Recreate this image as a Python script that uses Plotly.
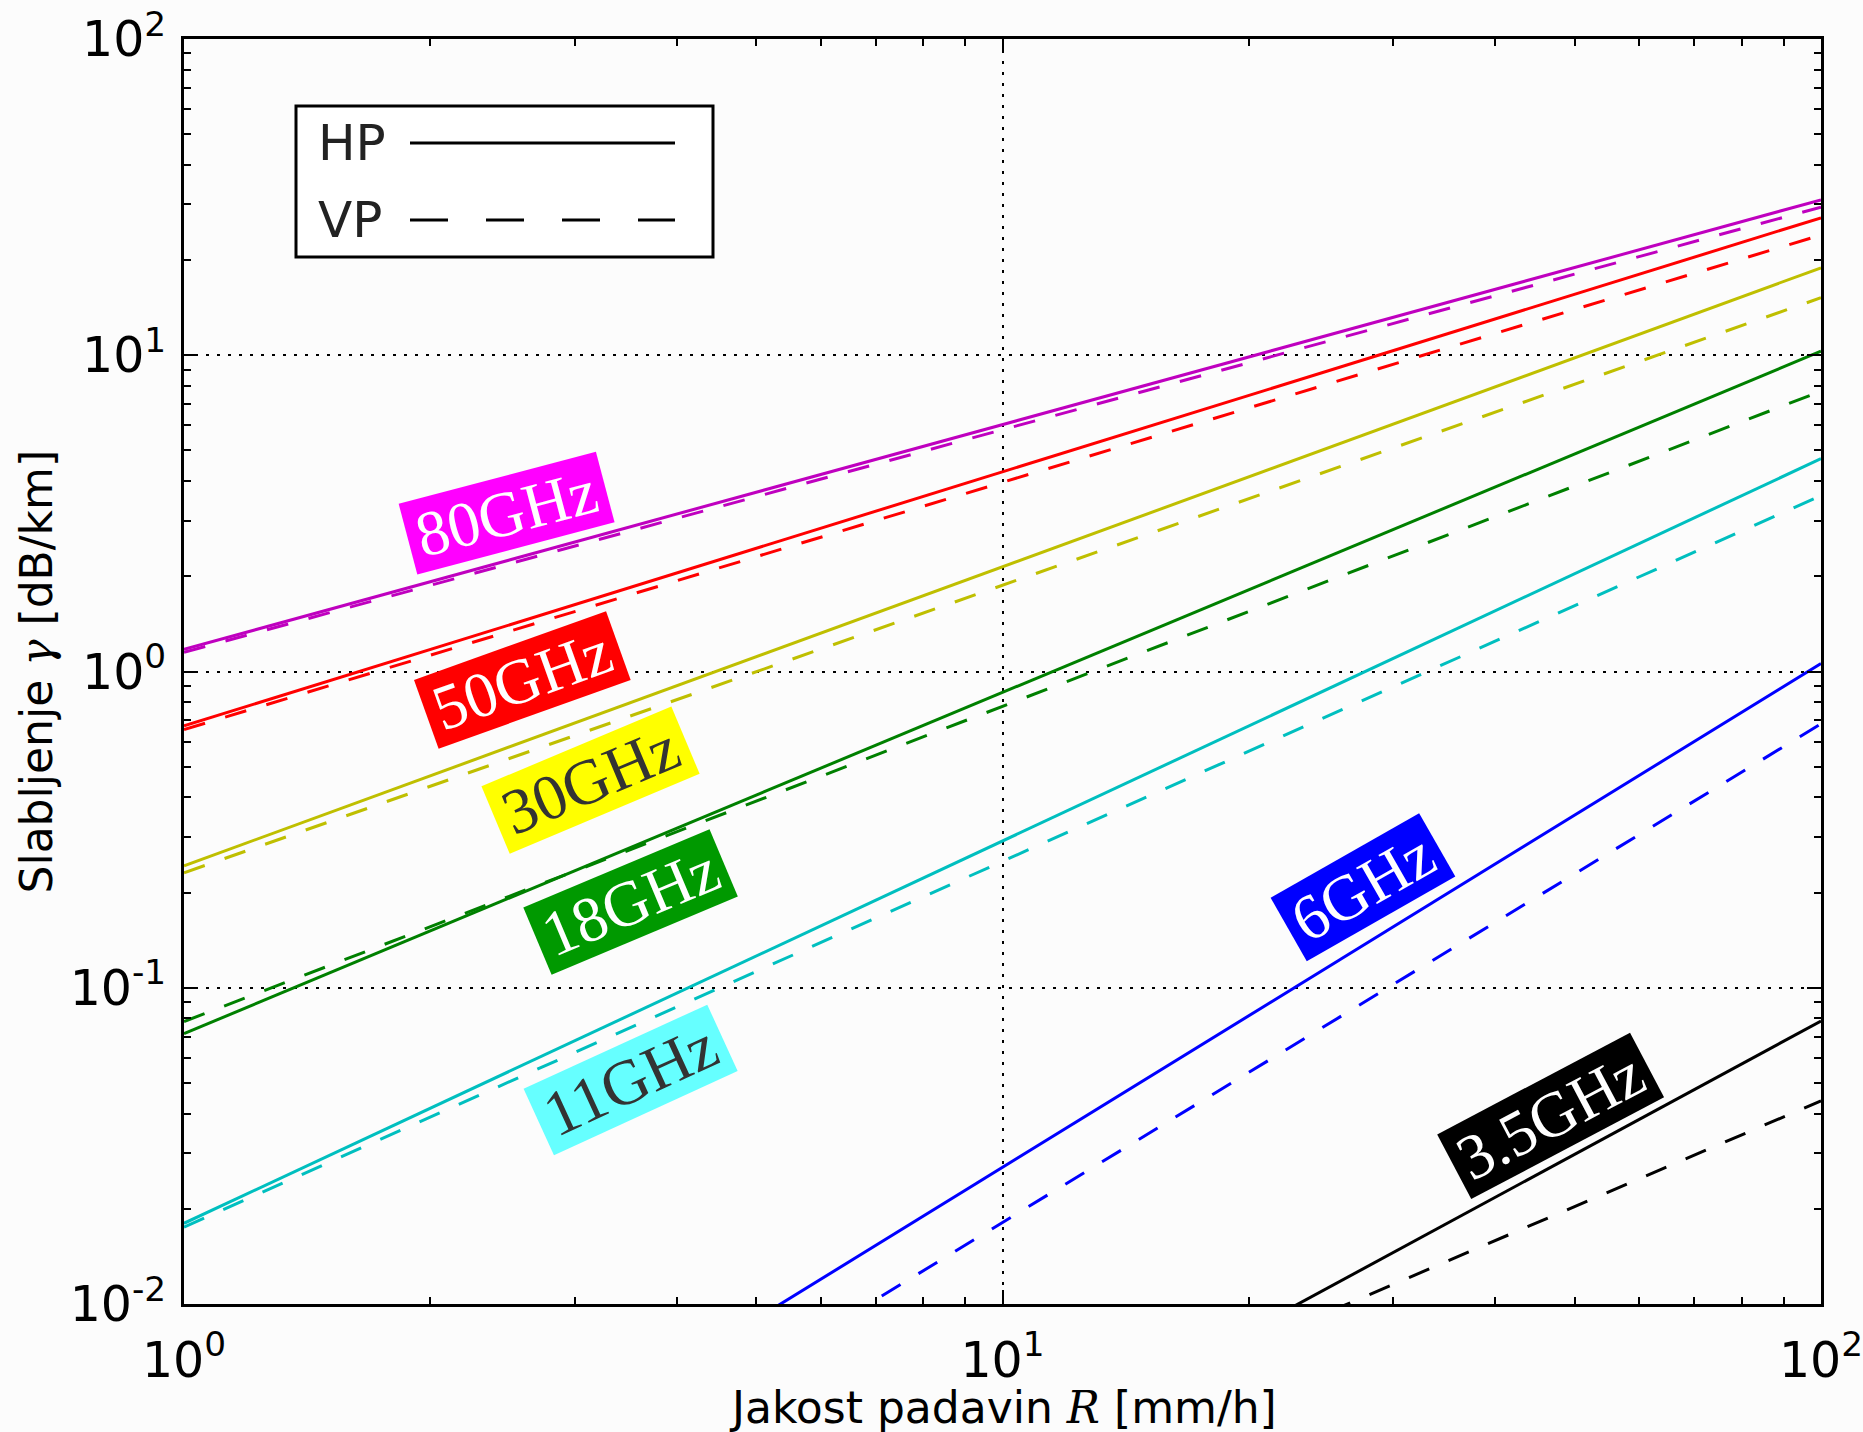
import math
import plotly.graph_objects as go

# ---------------- data ----------------
rain_rate = [1, 100]  # mm/h, ends of each straight (power-law) line

frequencies = ["80GHz", "50GHz", "30GHz", "18GHz", "11GHz", "6GHz", "3.5GHz"]

hp_80 = [1.175, 31.0]
vp_80 = [1.15, 29.4]
hp_50 = [0.673, 27.2]
vp_50 = [0.655, 24.0]
hp_30 = [0.243, 18.9]
vp_30 = [0.231, 15.2]
hp_18 = [0.0716, 10.3]
vp_18 = [0.0782, 7.7]
hp_11 = [0.0180, 4.71]
vp_11 = [0.0175, 3.6]
hp_6 = [0.00069, 1.06]
vp_6 = [0.00048, 0.683]
hp_35 = [0.000124, 0.0785]
vp_35 = [0.000264, 0.0439]

x_tick_vals = [1, 10, 100]
x_tick_text = ["10<sup>0</sup>", "10<sup>1</sup>", "10<sup>2</sup>"]
y_tick_vals = [0.01, 0.1, 1, 10, 100]
y_tick_text = ["10<sup>-2</sup>", "10<sup>-1</sup>", "10<sup>0</sup>", "10<sup>1</sup>", "10<sup>2</sup>"]

x_title = "Jakost padavin <span style='font-family:\"DejaVu Serif\"'><i>R</i></span> [mm/h]"
y_title = "Slabljenje <span style='font-family:\"DejaVu Serif\"'><i>γ</i></span> [dB/km]"

# ---------------- styling ----------------
hp_series = [hp_80, hp_50, hp_30, hp_18, hp_11, hp_6, hp_35]
vp_series = [vp_80, vp_50, vp_30, vp_18, vp_11, vp_6, vp_35]
line_colors = ["#bf00bf", "#ff0000", "#bfbf00", "#008000", "#00bfbf", "#0000ff", "#000000"]
box_colors = ["#ff00ff", "#ff0000", "#ffff00", "#009900", "#66ffff", "#0000ff", "#000000"]
text_colors = ["#ffffff", "#ffffff", "#333333", "#ffffff", "#333333", "#ffffff", "#ffffff"]
# label centres (R, gamma), angle, box width
label_pos_R = [2.48, 2.59, 3.14, 3.51, 3.51, 27.6, 46.7]
label_pos_g = [3.18, 0.937, 0.454, 0.187, 0.0512, 0.208, 0.0394]
label_angle = [-14.8, -19.7, -22.8, -22.8, -24.6, -29.7, -27.8]
label_width = [203, 203, 205, 201, 201, 170, 217]

BG = "#fcfcfc"
W, H = 1863, 1432
ML, MT = 184, 39
MR = W - 1821
MB = H - 1304

fig = go.Figure()

for i, f in enumerate(frequencies):
    fig.add_trace(go.Scatter(x=rain_rate, y=hp_series[i], mode="lines", name=f + " HP",
                             line=dict(color=line_colors[i], width=3), showlegend=False))
    fig.add_trace(go.Scatter(x=rain_rate, y=vp_series[i], mode="lines", name=f + " VP",
                             line=dict(color=line_colors[i], width=3, dash="22px,21px"),
                             showlegend=False))

annotations = []
for i, f in enumerate(frequencies):
    annotations.append(dict(
        x=math.log10(label_pos_R[i]), y=math.log10(label_pos_g[i]), xref="x", yref="y",
        text=f, showarrow=False, textangle=label_angle[i],
        xanchor="center", yanchor="middle", width=label_width[i], height=72,
        align="center", valign="middle", bgcolor=box_colors[i], borderpad=0,
        font=dict(family="Liberation Serif", size=64, color=text_colors[i])))

# ----- window pixel -> paper helpers -----
pw, ph = W - ML - MR, H - MT - MB
def px(x):
    return (x - ML) / pw
def py(y):
    return 1 - (y - MT) / ph

# axis titles
annotations.append(dict(x=0.5, y=py(1407), xref="paper", yref="paper", text=x_title,
                        showarrow=False, xanchor="center", yanchor="middle",
                        font=dict(family="DejaVu Sans", size=44, color="black")))
annotations.append(dict(x=px(36), y=0.5, xref="paper", yref="paper", text=y_title,
                        showarrow=False, xanchor="center", yanchor="middle", textangle=-90,
                        font=dict(family="DejaVu Sans", size=44, color="black")))

# ----- hand-drawn legend (text left, line sample right) -----
shapes = [
    dict(type="rect", xref="paper", yref="paper", x0=px(296), x1=px(713), y0=py(257), y1=py(106),
         line=dict(color="black", width=3), fillcolor="#ffffff", layer="above"),
    dict(type="line", xref="paper", yref="paper", x0=px(410), x1=px(675), y0=py(143), y1=py(143),
         line=dict(color="black", width=3)),
    dict(type="line", xref="paper", yref="paper", x0=px(410), x1=px(675), y0=py(220), y1=py(220),
         line=dict(color="black", width=3, dash="38px,38px")),
]
annotations.append(dict(x=px(316), y=py(143), xref="paper", yref="paper", text="HP", showarrow=False,
                        xanchor="left", yanchor="middle",
                        font=dict(family="DejaVu Sans", size=50, color="#222222")))
annotations.append(dict(x=px(316), y=py(220), xref="paper", yref="paper", text="VP", showarrow=False,
                        xanchor="left", yanchor="middle",
                        font=dict(family="DejaVu Sans", size=50, color="#222222")))

minor_x = [2, 3, 4, 5, 6, 7, 8, 9, 20, 30, 40, 50, 60, 70, 80, 90]
minor_y = [0.02, 0.03, 0.04, 0.05, 0.06, 0.07, 0.08, 0.09,
           0.2, 0.3, 0.4, 0.5, 0.6, 0.7, 0.8, 0.9,
           2, 3, 4, 5, 6, 7, 8, 9, 20, 30, 40, 50, 60, 70, 80, 90]

axis_common = dict(
    type="log", showline=True, linecolor="black", linewidth=3, mirror="allticks",
    ticks="inside", ticklen=14, tickwidth=2, tickcolor="black",
    showgrid=True, gridcolor="black", griddash="3px,8px", gridwidth=2,
    zeroline=False, tickmode="array", automargin=False, ticklabeloverflow="allow",
    tickfont=dict(family="DejaVu Sans", size=49, color="black"),
)

fig.update_layout(
    width=W, height=H,
    margin=dict(l=ML, r=MR, t=MT, b=MB, autoexpand=False),
    paper_bgcolor=BG, plot_bgcolor=BG,
    showlegend=False,
    xaxis=dict(axis_common, range=[0, 2], tickvals=x_tick_vals, ticktext=x_tick_text,
               ticklabelstandoff=11,
               minor=dict(tickmode="array", tickvals=minor_x, ticks="inside", ticklen=7,
                          tickwidth=2, tickcolor="black", showgrid=False)),
    yaxis=dict(axis_common, range=[-2, 2], tickvals=y_tick_vals, ticktext=y_tick_text,
               ticklabelstandoff=5,
               minor=dict(tickmode="array", tickvals=minor_y, ticks="inside", ticklen=7,
                          tickwidth=2, tickcolor="black", showgrid=False)),
    annotations=annotations,
    shapes=shapes,
)

fig.write_html(
    "out.html",
    config={"displayModeBar": False},
    post_script="document.body.style.margin='0';document.body.style.overflow='hidden';"
                "document.body.style.background='#fcfcfc';",
)
